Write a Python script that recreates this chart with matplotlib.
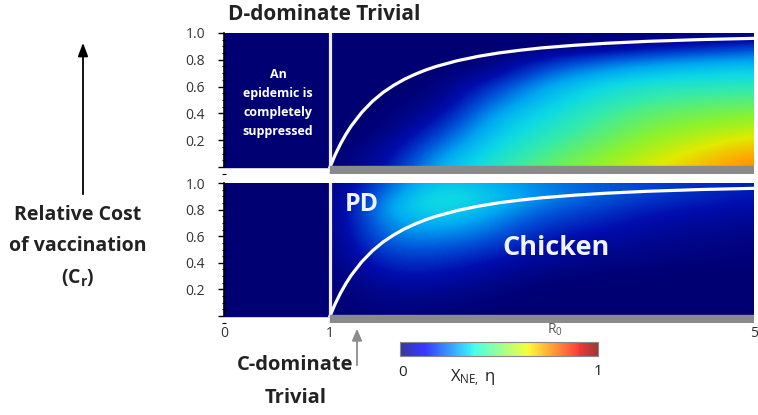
import numpy as np
import matplotlib.pyplot as plt
from matplotlib.patches import Rectangle
from matplotlib.ticker import MultipleLocator
from matplotlib.colors import ListedColormap, LinearSegmentedColormap
from matplotlib.cm import ScalarMappable

plt.rcParams['font.family'] = ['Open Sans', 'DejaVu Sans']
plt.rcParams['mathtext.fontset'] = 'custom'
plt.rcParams['mathtext.rm'] = 'Open Sans'
plt.rcParams['mathtext.it'] = 'Open Sans:italic'
plt.rcParams['mathtext.bf'] = 'Open Sans:bold'

# grid: R0 = 1.0 .. 5.0 step 0.5 across, Cr = 0 .. 1 step 0.1 up
r0_nodes = [1.0, 1.5, 2.0, 2.5, 3.0, 3.5, 4.0, 4.5, 5.0]
cr_nodes = [0.0, 0.1, 0.2, 0.3, 0.4, 0.5, 0.6, 0.7, 0.8, 0.9, 1.0]

# upper panel (x_NE)
x_ne = [
    [0.00, 0.08, 0.32, 0.42, 0.50, 0.56, 0.62, 0.69, 0.77],
    [0.00, 0.05, 0.27, 0.39, 0.47, 0.53, 0.59, 0.65, 0.72],
    [0.00, 0.02, 0.20, 0.36, 0.44, 0.50, 0.56, 0.60, 0.65],
    [0.00, 0.00, 0.13, 0.33, 0.41, 0.47, 0.53, 0.56, 0.59],
    [0.00, 0.00, 0.06, 0.29, 0.38, 0.45, 0.50, 0.52, 0.54],
    [0.00, 0.00, 0.02, 0.22, 0.34, 0.41, 0.46, 0.48, 0.49],
    [0.00, 0.00, 0.00, 0.15, 0.30, 0.38, 0.42, 0.43, 0.44],
    [0.00, 0.00, 0.00, 0.05, 0.22, 0.30, 0.35, 0.37, 0.38],
    [0.00, 0.00, 0.00, 0.00, 0.12, 0.20, 0.25, 0.28, 0.30],
    [0.00, 0.00, 0.00, 0.00, 0.00, 0.03, 0.08, 0.12, 0.17],
    [0.00, 0.00, 0.00, 0.00, 0.00, 0.00, 0.00, 0.00, 0.00],
]

# lower panel (eta)
eta = [
    [0.00, 0.02, 0.01, 0.00, 0.00, 0.00, 0.00, 0.00, 0.00],
    [0.00, 0.03, 0.03, 0.01, 0.00, 0.00, 0.00, 0.00, 0.00],
    [0.00, 0.06, 0.06, 0.03, 0.00, 0.00, 0.00, 0.00, 0.00],
    [0.00, 0.10, 0.10, 0.06, 0.02, 0.01, 0.00, 0.00, 0.00],
    [0.00, 0.15, 0.15, 0.10, 0.05, 0.03, 0.02, 0.01, 0.01],
    [0.00, 0.20, 0.20, 0.16, 0.08, 0.06, 0.04, 0.03, 0.02],
    [0.00, 0.25, 0.27, 0.22, 0.12, 0.09, 0.06, 0.04, 0.03],
    [0.00, 0.28, 0.33, 0.27, 0.17, 0.13, 0.09, 0.07, 0.05],
    [0.00, 0.30, 0.41, 0.32, 0.22, 0.17, 0.12, 0.10, 0.08],
    [0.00, 0.25, 0.42, 0.36, 0.27, 0.22, 0.17, 0.14, 0.11],
    [0.00, 0.20, 0.37, 0.31, 0.25, 0.21, 0.18, 0.15, 0.13],
]

# white boundary curve
curve_r0 = [1.0, 1.05, 1.1, 1.15, 1.2, 1.3, 1.4, 1.5, 1.6, 1.7, 1.8, 1.9, 2.0,
            2.2, 2.4, 2.6, 2.8, 3.0, 3.3, 3.6, 4.0, 4.5, 5.0]
curve_cr = [0.0, 0.093, 0.174, 0.244, 0.306, 0.408, 0.49, 0.556, 0.609, 0.654,
            0.691, 0.723, 0.75, 0.793, 0.826, 0.852, 0.872, 0.889, 0.908, 0.923,
            0.938, 0.951, 0.96]

yticks = [0.0, 0.2, 0.4, 0.6, 0.8, 1.0]
ytick_labels = ['', '0.2', '0.4', '0.6', '0.8', '1.0']

# jet-like map with the darker blues of the original
cmap = LinearSegmentedColormap.from_list('panel_jet', [
    (0.00, (0.00, 0.00, 0.45)),
    (0.10, (0.00, 0.05, 0.68)),
    (0.20, (0.00, 0.32, 0.85)),
    (0.30, (0.00, 0.66, 0.95)),
    (0.38, (0.05, 0.85, 0.90)),
    (0.45, (0.20, 0.92, 0.68)),
    (0.55, (0.55, 0.95, 0.18)),
    (0.63, (0.88, 0.92, 0.00)),
    (0.72, (1.00, 0.65, 0.00)),
    (0.85, (1.00, 0.25, 0.00)),
    (1.00, (0.60, 0.00, 0.00)),
])

W, H = 758, 415
fig = plt.figure(figsize=(W / 100, H / 100), dpi=100)


def panel(top_px, unit_px, z):
    ybot = -0.055
    bottom_px = top_px + unit_px * (1 - ybot)
    ax = fig.add_axes([224 / W, 1 - bottom_px / H, 530 / W, (bottom_px - top_px) / H])
    ax.add_patch(Rectangle((0, 0), 1, 1, color=cmap(0.0), zorder=1))
    dx = (r0_nodes[1] - r0_nodes[0]) / 2
    dy = (cr_nodes[1] - cr_nodes[0]) / 2
    im = ax.imshow(np.array(z), origin='lower', cmap=cmap, vmin=0, vmax=1,
                   interpolation='bicubic', aspect='auto', zorder=1,
                   extent=(r0_nodes[0] - dx, r0_nodes[-1] + dx,
                           cr_nodes[0] - dy, cr_nodes[-1] + dy))
    im.set_clip_path(Rectangle((1, 0), 4, 1, transform=ax.transData))
    ax.set_xlim(0, 5)
    ax.set_ylim(ybot, 1)
    ax.plot(curve_r0, curve_cr, color='white', lw=2.3, zorder=3)
    ax.plot([1, 1], [0, 1], color='#eeeeff', lw=2.3, zorder=3)
    ax.add_patch(Rectangle((1, ybot), 4, -ybot + 0.01, color='#8a8a8a', zorder=4))
    for s in ['top', 'right', 'bottom']:
        ax.spines[s].set_visible(False)
    ax.spines['left'].set_bounds(0, 1)
    ax.spines['left'].set_linewidth(1.2)
    ax.set_yticks(yticks)
    ax.set_yticklabels(ytick_labels)
    ax.yaxis.set_minor_locator(MultipleLocator(0.05))
    ax.tick_params(axis='y', which='major', length=4.5, width=1, pad=9, labelsize=10,
                   labelcolor='#333333')
    ax.tick_params(axis='y', which='minor', direction='inout', length=3.5, width=0.8)
    ax.set_xticks([])
    return ax


ax_top = panel(33, 134, x_ne)
ax_bot = panel(183, 133, eta)
ax_bot.set_xticks([0, 1, 5])
ax_bot.set_xticklabels(['0', '1', '5'])
ax_bot.tick_params(axis='x', length=0, pad=2, labelsize=10, labelcolor='#333333')

# colour bar (printed paler than the panels)
samples = plt.get_cmap('jet')(np.linspace(0, 1, 256))
samples[:, :3] = samples[:, :3] * 0.78 + 0.22
pale = ListedColormap(samples)
cax = fig.add_axes([400 / W, 1 - 356 / H, 198 / W, 14 / H])
cb = fig.colorbar(ScalarMappable(cmap=pale), cax=cax, orientation='horizontal')
cb.set_ticks([])
cb.outline.set_edgecolor('#888888')
cb.outline.set_linewidth(0.8)

# overlay in pixel coordinates for annotations
ov = fig.add_axes([0, 0, 1, 1], zorder=10)
ov.set_xlim(0, W)
ov.set_ylim(H, 0)
ov.axis('off')
ov.patch.set_alpha(0)

dark = '#222222'
ov.text(228, 14, 'D-dominate Trivial', fontsize=15, fontweight='bold', color=dark,
        ha='left', va='center')
ov.text(278, 103, 'An\nepidemic is\ncompletely\nsuppressed', fontsize=9,
        fontweight='bold', color='white', ha='center', va='center', linespacing=1.6)
ov.text(362, 204, 'PD', fontsize=18, fontweight='bold', color='#eef3ff',
        ha='center', va='center')
ov.text(556, 248, 'Chicken', fontsize=19.5, fontweight='bold', color='#eef3ff',
        ha='center', va='center')
ov.text(555, 330, r'R$_0$', fontsize=10, color='#555555', ha='center', va='center')
ov.text(403, 372, '0', fontsize=11, color=dark, ha='center', va='center')
ov.text(598, 371, '1', fontsize=11, color=dark, ha='center', va='center')
ov.text(473, 378, r'X$_{\mathrm{NE,}}$ η', fontsize=12, color=dark,
        ha='center', va='center')
ov.text(295, 365, 'C-dominate', fontsize=14.5, fontweight='bold', color=dark,
        ha='center', va='center')
ov.text(296, 398, 'Trivial', fontsize=14.5, fontweight='bold', color=dark,
        ha='center', va='center')
ov.annotate('', xy=(357, 326), xytext=(357, 368),
            arrowprops=dict(arrowstyle='-|>,head_width=0.3,head_length=0.7',
                            color='#8c8c8c', lw=1.3))
ov.annotate('', xy=(83, 40), xytext=(83, 197),
            arrowprops=dict(arrowstyle='-|>,head_width=0.3,head_length=0.8',
                            color='black', lw=1.3))
ov.text(78, 215, 'Relative Cost', fontsize=14, fontweight='bold', color=dark,
        ha='center', va='center')
ov.text(78, 246, 'of vaccination', fontsize=14, fontweight='bold', color=dark,
        ha='center', va='center')
ov.text(78, 277, r'(C$_\mathbf{r}$)', fontsize=14, fontweight='bold', color=dark,
        ha='center', va='center')

fig.savefig('out.png', dpi=100)
